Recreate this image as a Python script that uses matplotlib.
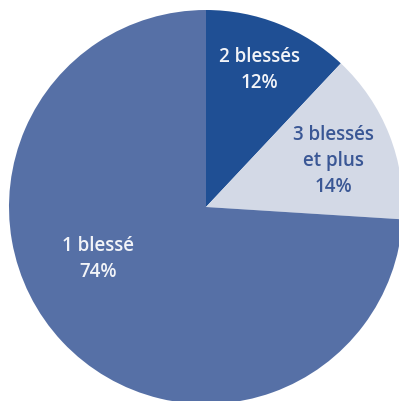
import matplotlib
matplotlib.use("Agg")
import matplotlib.pyplot as plt

# data
labels = ["2 blessés", "3 blessés\net plus", "1 blessé"]
shares = [12, 14, 74]

# styling
COLORS = ["#1f4f94", "#d3d9e6", "#5670a6"]
TEXT_COLORS = ["#f2f4f8", "#3a5795", "#f2f4f8"]
LABEL_POS = [(0.27, 0.70), (0.645, 0.24), (-0.55, -0.26)]

plt.rcParams["font.family"] = ["Open Sans", "DejaVu Sans"]

W, H = 399, 402
fig = plt.figure(figsize=(W / 100, H / 100), dpi=100)
fig.patch.set_facecolor("white")

cx, cy, r = 206, 402 - 208, 197
ax = fig.add_axes([(cx - r) / W, (cy - r) / H, 2 * r / W, 2 * r / H])

ax.pie(shares, colors=COLORS, startangle=90, counterclock=False, radius=1,
       wedgeprops=dict(edgecolor="none"))
ax.set_xlim(-1, 1)
ax.set_ylim(-1, 1)
ax.set_aspect("equal")
ax.axis("off")

for lab, val, (x, y), tc in zip(labels, shares, LABEL_POS, TEXT_COLORS):
    ax.text(x, y, f"{lab}\n{val}%", ha="center", va="center", color=tc,
            fontsize=13.5, linespacing=1.4, fontweight="semibold")

fig.savefig("out.png", dpi=100, facecolor="white")
